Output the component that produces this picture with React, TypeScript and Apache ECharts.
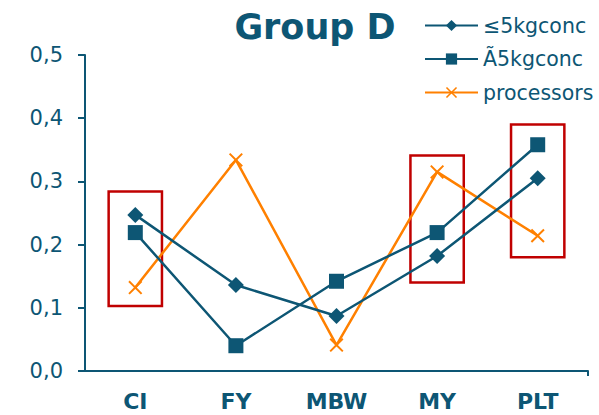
import React, { useEffect, useRef } from "react";
import * as echarts from "echarts";

const categories = ["CI", "FY", "MBW", "MY", "PLT"];
const seriesNames = ["≤5kgconc", "Ã5kgconc", "processors"];
const small = [0.247, 0.136, 0.087, 0.182, 0.305];
const large = [0.219, 0.04, 0.142, 0.219, 0.358];
const processors = [0.132, 0.334, 0.041, 0.315, 0.214];
// highlighted boxes: [category index, low, high]
const boxes = [
  [0, 0.103, 0.284],
  [3, 0.14, 0.341],
  [4, 0.18, 0.39],
];
const yTicks = [0, 0.1, 0.2, 0.3, 0.4, 0.5];

const TEAL = "#0d5674";
const ORANGE = "#ff8000";
const RED = "#c00000";
const FONT = "DejaVu Sans";
const X_SYMBOL =
  "path://M0,1 L1,0 L5,4 L9,0 L10,1 L6,5 L10,9 L9,10 L5,6 L1,10 L0,9 L4,5 Z";

export default function App() {
  const ref = useRef<HTMLDivElement>(null);
  useEffect(() => {
    const chart = echarts.init(ref.current!, null, { renderer: "svg" });
    chart.setOption({
      animation: false,
      title: {
        text: "Group D",
        left: 310,
        textAlign: "center",
        top: 4,
        textStyle: { fontFamily: FONT, fontSize: 35, fontWeight: "bold", color: TEAL },
      },
      legend: {
        orient: "vertical",
        left: 424,
        top: 15,
        padding: 0,
        itemWidth: 53,
        itemHeight: 14,
        itemGap: 12.5,
        data: seriesNames,
        textStyle: { fontFamily: FONT, fontSize: 20.5, lineHeight: 21, color: TEAL },
      },
      grid: { left: 85, right: 11, top: 55, bottom: 44 },
      xAxis: {
        type: "category",
        data: categories,
        boundaryGap: true,
        axisLine: { lineStyle: { color: TEAL, width: 2 } },
        axisTick: { alignWithLabel: true, length: 5, lineStyle: { color: TEAL, width: 2 } },
        axisLabel: { fontFamily: FONT, fontSize: 22, fontWeight: "bold", color: TEAL, margin: 19 },
      },
      yAxis: {
        type: "value",
        min: 0,
        max: 0.5,
        interval: 0.1,
        splitLine: { show: false },
        axisLine: { show: true, lineStyle: { color: TEAL, width: 2 } },
        axisTick: { show: true, length: 7, lineStyle: { color: TEAL, width: 2 } },
        axisLabel: {
          fontFamily: FONT,
          fontSize: 21,
          color: TEAL,
          margin: 22,
          formatter: (v: number) => {
            const t = yTicks.find((x) => Math.abs(x - v) < 1e-9);
            return (t ?? v).toFixed(1).replace(".", ",");
          },
        },
      },
      series: [
        {
          type: "custom",
          name: "boxes",
          silent: true,
          z: 1,
          data: boxes,
          renderItem: (params: any, api: any) => {
            const c = api.value(0);
            const lo = api.coord([c, api.value(1)]);
            const hi = api.coord([c, api.value(2)]);
            const w = api.size([1, 0])[0] * 0.53;
            return {
              type: "rect",
              shape: { x: lo[0] - w / 2, y: hi[1], width: w, height: lo[1] - hi[1] },
              style: { fill: "none", stroke: RED, lineWidth: 2.5 },
            };
          },
        },
        {
          type: "line",
          name: seriesNames[0],
          data: small,
          symbol: "diamond",
          symbolSize: 16,
          lineStyle: { color: TEAL, width: 2.5 },
          itemStyle: { color: TEAL },
          z: 3,
        },
        {
          type: "line",
          name: seriesNames[1],
          data: large,
          symbol: "rect",
          symbolSize: 15,
          lineStyle: { color: TEAL, width: 2.5 },
          itemStyle: { color: TEAL },
          z: 3,
        },
        {
          type: "line",
          name: seriesNames[2],
          data: processors,
          symbol: X_SYMBOL,
          symbolSize: 14,
          lineStyle: { color: ORANGE, width: 2.5 },
          itemStyle: { color: ORANGE },
          z: 2,
        },
      ],
    });
    // closing tick at the right end of the category axis
    const p0 = chart.convertToPixel({ xAxisIndex: 0 }, 0) as number;
    const p1 = chart.convertToPixel({ xAxisIndex: 0 }, 1) as number;
    const pLast = chart.convertToPixel({ xAxisIndex: 0 }, categories.length - 1) as number;
    const yBase = chart.convertToPixel({ yAxisIndex: 0 }, 0) as number;
    const xEnd = pLast + (p1 - p0) / 2;
    chart.setOption({
      graphic: [
        {
          type: "line",
          shape: { x1: xEnd, y1: yBase, x2: xEnd, y2: yBase + 5 },
          style: { stroke: TEAL, lineWidth: 2 },
        },
      ],
    });
    return () => chart.dispose();
  }, []);
  return <div ref={ref} style={{ width: 599, height: 415, position: "absolute", left: 0, top: 0 }} />;
}
